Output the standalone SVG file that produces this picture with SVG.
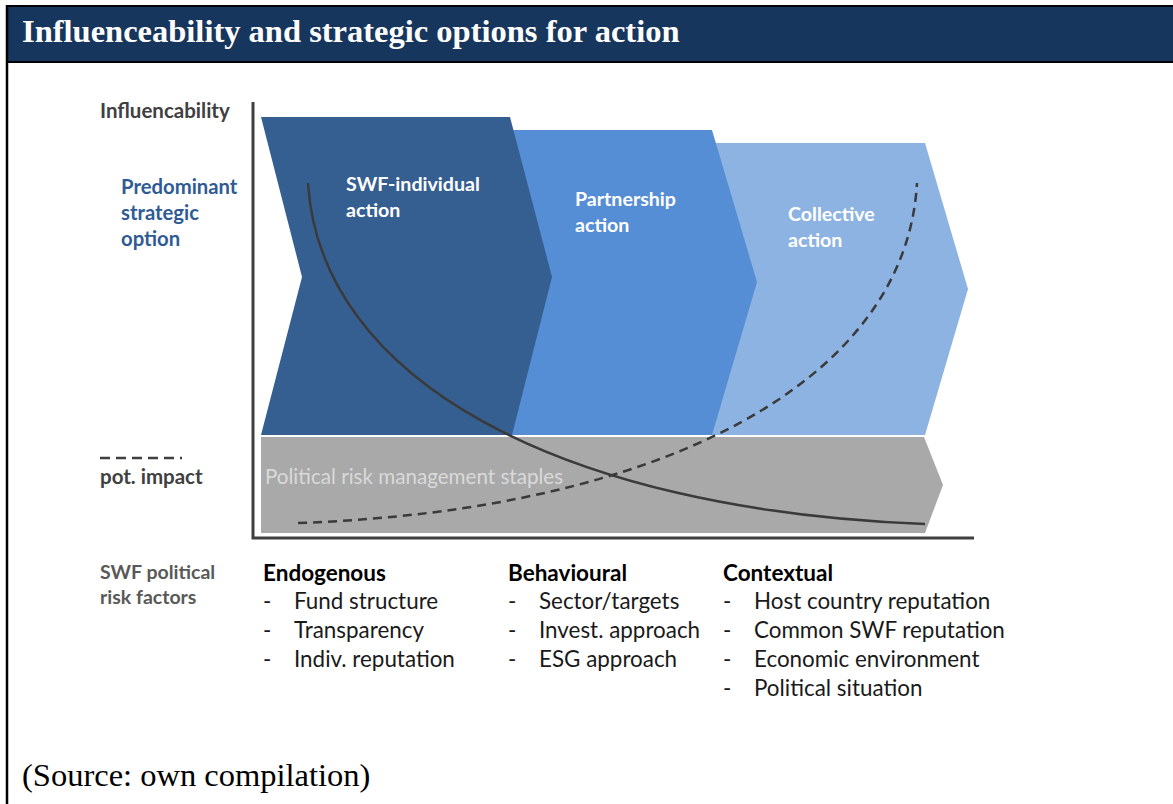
<svg xmlns="http://www.w3.org/2000/svg" width="1173" height="804" viewBox="0 0 1173 804">
<style>
.title{font-family:"Liberation Serif",serif;font-weight:bold;font-size:32.5px;fill:#ffffff}
.src{font-family:"Liberation Serif",serif;font-size:32.5px;fill:#000}
.lab{font-family:Lato,"Open Sans",sans-serif;font-weight:bold;font-size:20.5px;fill:#404040}
.blue{font-family:Lato,"Open Sans",sans-serif;font-weight:bold;font-size:20.3px;fill:#2f5b94}
.wht{font-family:Lato,"Open Sans",sans-serif;font-weight:bold;font-size:19.6px;fill:#ffffff}
.grey{font-family:Lato,"Open Sans",sans-serif;font-size:20.6px;fill:#d9d9d9}
.rf{font-family:Lato,"Open Sans",sans-serif;font-weight:bold;font-size:19.5px;fill:#595959}
.hd{font-family:Lato,"Open Sans",sans-serif;font-weight:bold;font-size:22.5px;fill:#000}
.it{font-family:Lato,"Open Sans",sans-serif;font-size:22.4px;fill:#1a1a1a}
.axis{stroke:#404040;stroke-width:3;fill:none}
.curve{stroke:#3a3a3a;stroke-width:2.5;fill:none}
.dash{stroke:#3a3a3a;stroke-width:2.5;fill:none;stroke-dasharray:9 6}
</style>
<rect x="0" y="0" width="1173" height="804" fill="#ffffff"/>
<g id="frame">
<rect x="7" y="6" width="1170" height="56" fill="#17365d"/>
<line x1="7" y1="6" x2="1173" y2="6" stroke="#000" stroke-width="2"/>
<line x1="7" y1="62" x2="1173" y2="62" stroke="#000" stroke-width="2"/>
<line x1="7" y1="5" x2="7" y2="804" stroke="#000" stroke-width="2.5"/>
<text class="title" x="22" y="42">Influenceability and strategic options for action</text>
</g>
<g id="staples">
<polygon points="261,437 924,437 943,485 925,533 261,533" fill="#a9a9a9"/>
<text class="grey" x="265" y="484">Political risk management staples</text>
</g>
<g id="collective">
<polygon points="700,143 925,143 968,289 925,435 700,435" fill="#8db3e2"/>
<text class="wht" x="788" y="221">Collective</text>
<text class="wht" x="788" y="247">action</text>
</g>
<g id="partnership">
<polygon points="490,130 712,130 757,282 712,435 490,435" fill="#558ed5"/>
<text class="wht" x="575" y="206">Partnership</text>
<text class="wht" x="575" y="232">action</text>
</g>
<g id="individual">
<polygon points="261,117 510,117 552,277 512,435 261,435 302,277" fill="#365f91"/>
<text class="wht" x="346" y="191">SWF-individual</text>
<text class="wht" x="346" y="217">action</text>
</g>
<g id="connectors">
<polyline class="axis" points="253,102 253,538 974,538"/>
<path class="curve" d="M308,183 C320,380 560,510 925,524"/>
<path class="dash" d="M298,523 C666,510 906,380 917,183"/>
</g>
<g id="labels">
<text class="lab" x="100" y="118">Influencability</text>
<text class="blue" x="121" y="194">Predominant</text>
<text class="blue" x="121" y="220">strategic</text>
<text class="blue" x="121" y="246">option</text>
<line x1="100" y1="458" x2="182" y2="458" stroke="#404040" stroke-width="2.5" stroke-dasharray="10 6"/>
<text class="lab" x="100" y="484">pot. impact</text>
<text class="rf" x="100" y="579">SWF political</text>
<text class="rf" x="100" y="604">risk factors</text>
</g>
<g id="endogenous">
<text class="hd" x="263" y="581">Endogenous</text>
<text class="it" x="263" y="609">-</text><text class="it" x="294" y="609">Fund structure</text>
<text class="it" x="263" y="638">-</text><text class="it" x="294" y="638">Transparency</text>
<text class="it" x="263" y="667">-</text><text class="it" x="294" y="667">Indiv. reputation</text>
</g>
<g id="behavioural">
<text class="hd" x="508" y="581">Behavioural</text>
<text class="it" x="508" y="609">-</text><text class="it" x="539" y="609">Sector/targets</text>
<text class="it" x="508" y="638">-</text><text class="it" x="539" y="638">Invest. approach</text>
<text class="it" x="508" y="667">-</text><text class="it" x="539" y="667">ESG approach</text>
</g>
<g id="contextual">
<text class="hd" x="723" y="581">Contextual</text>
<text class="it" x="723" y="609">-</text><text class="it" x="754" y="609">Host country reputation</text>
<text class="it" x="723" y="638">-</text><text class="it" x="754" y="638">Common SWF reputation</text>
<text class="it" x="723" y="667">-</text><text class="it" x="754" y="667">Economic environment</text>
<text class="it" x="723" y="696">-</text><text class="it" x="754" y="696">Political situation</text>
</g>
<text class="src" x="22" y="786">(Source: own compilation)</text>
</svg>
